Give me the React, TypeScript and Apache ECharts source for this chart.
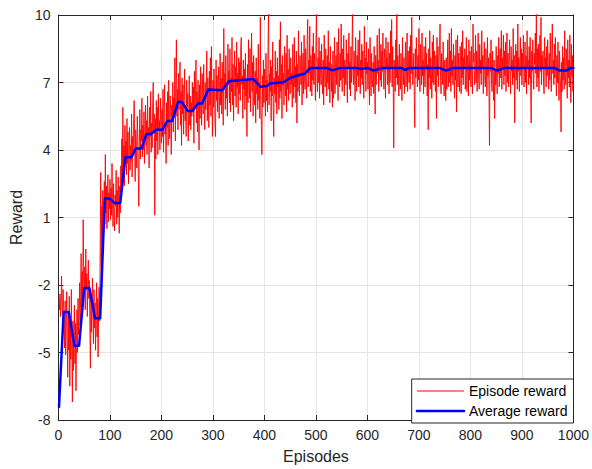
import React, { useEffect, useRef } from "react";
import * as echarts from "echarts";

// Reward of every training episode, 100 episodes per block
const rewards001to100 = [
  -2.6, -3.1, -2.4, -3.4, -2.9, -1.6, -2.8, -3.3, -2.2, -3.0,
  -3.5, -4.8, -2.7, -5.1, -3.9, -2.3, -4.4, -6.1, -3.2, -4.9,
  -2.5, -6.5, -3.8, -5.3, -2.2, -4.7, -7.2, -3.6, -5.8, -4.1,
  -2.9, -5.5, -3.7, -6.7, -4.4, -3.1, -5.0, -2.6, -4.2, -3.3,
  -1.9, -3.8, -2.5, -0.6, -3.0, -1.4, -2.8, 0.9, -1.7, -2.4,
  -1.2, -3.1, -0.4, -2.2, -1.5, -3.4, -2.0, -0.9, -2.6, -1.8,
  -3.7, -5.7, -2.4, -4.1, -2.9, -1.7, -3.5, -4.6, -2.2, -3.9,
  -2.8, -4.9, -3.3, -1.9, -4.3, -2.6, -5.2, -3.0, -2.1, -3.6,
  -0.5, 3.0, -1.2, 1.5, -0.2, 2.2, 0.4, 1.1, 2.6, 0.7,
  3.8, 1.2, 2.4, 0.5, 1.9, 2.9, 0.8, 2.1, 1.4, 2.7,
];
const rewards101to200 = [
  0.9, 2.3, 1.1, 3.4, 1.6, 0.6, 2.5, 1.3, 0.4, 2.0,
  1.5, 3.1, 0.7, 2.2, 1.0, 2.8, 1.7, 0.3, 2.4, 1.2,
  3.3, 2.0, 4.5, 2.6, 5.9, 3.0, 4.2, 2.4, 5.1, 3.6,
  4.4, 2.9, 5.4, 3.4, 4.8, 2.5, 3.9, 5.0, 3.1, 4.2,
  3.5, 5.6, 2.8, 4.6, 3.8, 5.2, 6.2, 4.4, 2.6, 4.9,
  4.1, 3.2, 5.5, 4.7, 3.0, 1.5, 4.3, 5.8, 3.6, 4.9,
  4.4, 6.3, 3.7, 5.1, 4.0, 5.7, 3.4, 4.8, 6.0, 4.2,
  5.3, 3.8, 6.4, 4.5, 5.0, 3.2, 5.9, 4.6, 6.6, 3.9,
  5.2, 4.1, 6.1, 7.0, 4.8, 5.6, 1.1, 5.4, 3.6, 6.2,
  4.4, 5.9, 3.8, 6.5, 4.9, 5.3, 4.0, 6.3, 5.0, 4.3,
];
const rewards201to300 = [
  5.8, 4.6, 6.7, 3.9, 5.5, 6.9, 4.7, 5.2, 3.4, 6.1,
  5.0, 6.6, 4.2, 7.1, 5.4, 4.5, 6.4, 5.7, 3.8, 6.0,
  5.3, 7.0, 4.8, 6.3, 5.6, 8.1, 4.4, 6.8, 8.9, 5.5,
  6.7, 4.9, 7.4, 5.8, 6.3, 7.9, 5.1, 6.6, 4.2, 7.2,
  5.6, 6.9, 4.7, 6.2, 7.6, 5.3, 6.0, 4.6, 7.1, 5.9,
  6.5, 4.4, 5.8, 7.3, 5.1, 6.4, 4.9, 6.1, 5.5, 7.0,
  5.7, 6.8, 4.3, 7.5, 5.9, 6.2, 8.0, 5.2, 6.6, 4.8,
  7.1, 6.0, 4.0, 6.9, 5.4, 7.7, 6.3, 5.1, 7.4, 6.5,
  5.6, 7.8, 6.1, 4.9, 7.0, 5.8, 6.6, 8.4, 5.3, 7.2,
  6.4, 5.0, 7.5, 6.0, 8.1, 5.5, 8.6, 6.3, 4.6, 7.1,
];
const rewards301to400 = [
  5.9, 7.6, 6.6, 5.2, 4.6, 8.0, 6.2, 7.3, 5.7, 6.9,
  7.7, 5.4, 6.5, 8.3, 6.0, 7.2, 5.6, 7.9, 6.4, 5.1,
  9.4, 6.7, 7.4, 5.8, 8.2, 6.3, 7.0, 5.5, 8.7, 6.9,
  7.5, 6.1, 8.5, 5.7, 7.2, 6.6, 9.0, 6.0, 7.8, 5.3,
  7.1, 8.4, 6.4, 7.7, 5.9, 8.8, 6.8, 7.4, 5.6, 8.1,
  6.5, 7.9, 6.2, 8.6, 9.0, 6.9, 7.3, 5.4, 8.0, 6.7,
  7.6, 5.8, 8.3, 6.4, 7.1, 4.6, 7.8, 6.1, 8.9, 7.0,
  6.3, 8.5, 5.7, 7.4, 9.2, 6.6, 7.9, 5.5, 8.2, 6.8,
  6.0, 7.5, 5.2, 8.1, 6.5, 7.2, 5.8, 8.7, 6.2, 7.0,
  5.4, 9.9, 6.4, 5.1, 3.8, 7.3, 5.9, 8.0, 6.1, 7.6,
];
const rewards401to500 = [
  6.8, 5.5, 8.3, 6.2, 7.1, 5.7, 8.6, 10.3, 6.0, 7.4,
  6.6, 8.0, 5.3, 7.7, 6.4, 8.8, 5.9, 4.6, 7.2, 6.5,
  8.4, 6.1, 7.5, 5.6, 8.1, 6.8, 7.3, 5.8, 8.9, 6.3,
  9.7, 6.6, 7.8, 5.4, 8.2, 6.9, 7.4, 6.0, 8.6, 7.1,
  6.4, 8.3, 5.7, 9.1, 6.7, 7.6, 6.2, 8.5, 7.0, 6.5,
  8.1, 6.9, 7.4, 5.9, 8.7, 7.2, 6.3, 9.0, 6.8, 7.7,
  6.1, 8.4, 5.2, 7.8, 6.6, 9.3, 7.1, 6.4, 8.2, 7.5,
  6.9, 8.8, 6.0, 7.6, 8.3, 6.5, 9.1, 7.2, 6.7, 8.5,
  7.0, 6.3, 8.9, 9.8, 6.8, 8.0, 7.4, 9.5, 6.6, 8.2,
  7.8, 6.4, 8.6, 7.1, 9.2, 6.9, 8.3, 7.5, 6.2, 8.8,
];
const rewards501to600 = [
  10.4, 7.3, 6.6, 8.1, 7.0, 9.0, 6.3, 8.4, 7.6, 6.9,
  8.7, 7.2, 6.5, 8.0, 6.0, 9.1, 7.4, 6.8, 8.5, 7.7,
  6.4, 8.2, 7.0, 9.3, 6.7, 7.9, 6.1, 8.6, 7.3, 6.6,
  7.8, 5.9, 8.4, 6.3, 7.1, 9.0, 6.5, 7.6, 8.2, 6.9,
  8.8, 7.4, 6.2, 9.4, 7.7, 6.8, 8.3, 7.1, 9.6, 7.5,
  6.6, 8.5, 7.2, 9.1, 6.4, 8.0, 7.6, 6.9, 8.9, 7.3,
  6.1, 8.3, 7.7, 9.2, 6.7, 7.9, 6.4, 8.6, 7.0, 8.1,
  10.5, 7.4, 6.9, 8.4, 7.6, 6.2, 9.0, 7.8, 6.6, 8.2,
  7.3, 8.9, 6.8, 7.5, 9.3, 6.5, 8.0, 7.2, 8.7, 6.9,
  8.4, 7.1, 6.3, 9.5, 7.7, 8.1, 6.6, 8.8, 7.4, 7.9,
];
const rewards601to700 = [
  6.7, 8.5, 7.2, 6.0, 9.0, 7.6, 6.4, 8.3, 7.0, 6.8,
  7.9, 6.5, 8.6, 7.3, 5.6, 8.2, 6.9, 7.7, 9.1, 7.4,
  8.0, 6.6, 9.4, 7.8, 7.1, 8.7, 6.8, 8.4, 7.5, 9.2,
  7.2, 6.7, 8.5, 7.9, 6.3, 9.0, 7.6, 8.1, 6.9, 8.8,
  7.4, 6.5, 8.3, 7.0, 9.3, 7.7, 9.8, 6.8, 8.6, 7.3,
  4.1, 8.0, 7.5, 6.6, 8.9, 7.2, 10.4, 6.9, 8.2, 7.6,
  6.4, 8.7, 7.1, 6.7, 8.3, 7.8, 6.2, 9.0, 7.4, 6.9,
  8.1, 6.5, 7.3, 8.8, 6.8, 7.7, 9.2, 6.6, 8.4, 7.5,
  7.0, 8.6, 6.7, 9.1, 7.4, 9.9, 8.0, 6.9, 7.6, 8.3,
  6.3, 5.0, 8.5, 7.2, 9.0, 7.7, 6.8, 8.2, 7.1, 9.4,
];
const rewards701to800 = [
  7.5, 6.6, 8.7, 7.9, 6.9, 9.2, 7.3, 8.0, 6.5, 8.6,
  7.4, 6.8, 9.0, 7.6, 8.3, 6.4, 7.8, 4.9, 8.5, 7.2,
  9.3, 6.7, 8.1, 7.5, 6.3, 8.8, 7.0, 9.1, 6.9, 8.4,
  7.7, 6.6, 8.2, 5.4, 9.0, 7.3, 8.6, 6.8, 7.9, 8.5,
  9.6, 7.1, 6.5, 8.3, 7.6, 6.9, 8.8, 7.2, 6.4, 8.0,
  7.4, 6.2, 8.1, 6.7, 7.5, 8.9, 6.8, 7.7, 9.2, 7.0,
  8.4, 6.6, 9.4, 7.3, 8.0, 6.9, 8.7, 7.5, 6.3, 8.2,
  7.1, 8.9, 5.7, 7.8, 9.1, 6.8, 8.3, 7.4, 6.6, 8.6,
  7.9, 6.5, 8.8, 7.2, 9.3, 6.9, 8.1, 7.6, 8.5, 6.7,
  7.4, 9.0, 6.6, 8.2, 7.7, 6.4, 8.9, 7.1, 8.4, 7.8,
];
const rewards801to900 = [
  6.8, 8.6, 7.3, 6.5, 9.6, 7.9, 8.3, 6.9, 7.5, 9.1,
  7.0, 8.4, 6.6, 7.8, 9.2, 7.2, 6.7, 8.7, 7.4, 8.0,
  6.9, 9.3, 7.6, 8.2, 6.5, 7.9, 8.8, 7.1, 6.8, 8.5,
  7.7, 6.4, 9.0, 7.3, 8.1, 6.7, 4.2, 8.3, 7.5, 8.9,
  7.0, 6.6, 8.4, 7.2, 6.2, 8.0, 5.4, 7.6, 6.9, 8.6,
  7.1, 6.5, 8.2, 7.4, 9.0, 6.8, 7.9, 8.5, 7.2, 9.3,
  6.7, 8.1, 7.6, 9.1, 6.9, 8.4, 7.3, 8.8, 6.6, 7.8,
  9.2, 7.0, 8.3, 6.8, 7.7, 8.9, 7.4, 6.5, 8.6, 7.5,
  8.0, 6.9, 9.4, 7.2, 8.2, 5.2, 7.8, 8.7, 7.1, 8.4,
  6.7, 9.6, 7.5, 8.1, 6.6, 7.9, 9.0, 7.3, 8.5, 6.9,
];
const rewards901to1000 = [
  8.3, 7.6, 9.1, 6.8, 7.4, 8.8, 7.0, 8.2, 6.5, 9.3,
  7.7, 8.0, 6.9, 8.6, 7.2, 9.0, 6.6, 5.2, 8.4, 7.5,
  8.9, 7.1, 6.7, 8.3, 7.8, 9.2, 7.4, 10.3, 6.8, 8.5,
  7.2, 8.7, 6.6, 7.9, 9.1, 7.5, 9.9, 6.9, 8.2, 7.6,
  8.4, 7.0, 6.5, 9.0, 7.7, 8.1, 6.8, 8.6, 7.3, 8.9,
  7.5, 6.7, 8.3, 7.1, 9.2, 7.8, 6.6, 8.5, 9.6, 7.4,
  8.0, 6.9, 8.7, 7.2, 9.0, 7.6, 6.4, 8.2, 7.0, 8.8,
  7.3, 6.2, 8.4, 7.5, 6.8, 4.8, 7.9, 6.6, 8.6, 7.1,
  8.1, 6.7, 9.3, 7.4, 6.9, 8.5, 7.7, 6.3, 8.9, 7.2,
  8.0, 6.8, 9.1, 7.5, 6.1, 8.7, 7.3, 8.2, 6.6, 7.9,
];

// Running average reward, given at the episodes where its trend changes
const avgEpisodes = [
  1, 10, 20, 31, 40, 50, 60, 71, 81, 90, 99, 109, 120, 130, 142, 150, 161,
  171, 180, 190, 202, 211, 221, 232, 240, 251, 260, 271, 279, 291, 318, 331,
  378, 392, 405, 411, 437, 450, 463, 479, 489, 520, 532, 548, 578, 589, 600,
  612, 628, 666, 673, 682, 740, 753, 766, 840, 852, 866, 963, 973, 986, 995,
  1000,
];
const avgRewards = [
  -7.42, -3.2, -3.2, -4.7, -4.7, -2.13, -2.13, -3.48, -3.48, 1.84, 1.84, 1.65,
  1.65, 3.68, 3.68, 4.07, 4.07, 4.71, 4.71, 4.9, 4.9, 5.29, 5.29, 6.13, 6.13,
  5.73, 5.73, 6.07, 6.07, 6.69, 6.66, 7.06, 7.16, 6.81, 6.84, 6.96, 7.01, 7.2,
  7.3, 7.4, 7.65, 7.65, 7.54, 7.65, 7.65, 7.6, 7.65, 7.53, 7.65, 7.65, 7.56,
  7.65, 7.65, 7.53, 7.65, 7.65, 7.53, 7.65, 7.65, 7.53, 7.53, 7.65, 7.65,
];

const yTickValues = [-8, -5, -2, 1, 4, 7, 10];

const FONT = "'Liberation Sans', Arial, Helvetica, sans-serif";
const AXIS_COLOR = "#262626";
const GRID_COLOR = "#e5e5e5";

export default function App() {
  const ref = useRef<HTMLDivElement>(null);

  useEffect(() => {
    if (!ref.current) return;
    const chart = echarts.init(ref.current, undefined, { renderer: "svg" });

    const episodeRewards = [
      ...rewards001to100,
      ...rewards101to200,
      ...rewards201to300,
      ...rewards301to400,
      ...rewards401to500,
      ...rewards501to600,
      ...rewards601to700,
      ...rewards701to800,
      ...rewards801to900,
      ...rewards901to1000,
    ];
    const rewardData = episodeRewards.map((v, i) => [i + 1, v]);
    const avgData = avgEpisodes.map((ep, i) => [ep, avgRewards[i]]);

    const axisLine = { show: true, onZero: false, lineStyle: { color: AXIS_COLOR, width: 1 } };
    const axisTick = { show: true, inside: true, length: 5, lineStyle: { color: AXIS_COLOR, width: 1 } };
    const tickLabel = { fontSize: 14, color: AXIS_COLOR, fontFamily: FONT };

    chart.setOption({
      animation: false,
      backgroundColor: "#ffffff",
      grid: { left: 57.5, right: 18, top: 15, bottom: 45.5, containLabel: false },
      xAxis: [
        {
          type: "value",
          position: "bottom",
          min: 0,
          max: 1000,
          interval: 100,
          name: "Episodes",
          nameLocation: "middle",
          nameGap: 28,
          nameTextStyle: { fontSize: 16, color: AXIS_COLOR, fontFamily: FONT },
          axisLine,
          axisTick,
          axisLabel: { ...tickLabel, margin: 8, formatter: (v: number) => String(v) },
          splitLine: { show: true, lineStyle: { color: GRID_COLOR, width: 1 } },
        },
        {
          type: "value",
          position: "top",
          min: 0,
          max: 1000,
          interval: 100,
          axisLine,
          axisTick,
          axisLabel: { show: false },
          splitLine: { show: false },
        },
      ],
      yAxis: [
        {
          type: "value",
          position: "left",
          min: -8,
          max: 10,
          name: "Reward",
          nameLocation: "middle",
          nameGap: 29,
          nameTextStyle: { fontSize: 16, color: AXIS_COLOR, fontFamily: FONT },
          axisLine,
          axisTick: { ...axisTick, customValues: yTickValues },
          axisLabel: { ...tickLabel, margin: 8, customValues: yTickValues },
          splitLine: { show: true, lineStyle: { color: GRID_COLOR, width: 1 } },
        },
        {
          type: "value",
          position: "right",
          min: -8,
          max: 10,
          axisLine,
          axisTick: { ...axisTick, customValues: yTickValues },
          axisLabel: { show: false, customValues: yTickValues },
          splitLine: { show: false },
        },
      ],
      legend: {
        orient: "vertical",
        right: 18.5,
        bottom: 46,
        itemWidth: 47,
        itemHeight: 14,
        itemGap: 6,
        padding: [5, 6, 5, 4],
        backgroundColor: "#ffffff",
        borderColor: AXIS_COLOR,
        borderWidth: 1,
        borderRadius: 0,
        // line sample only, no marker in the middle
        itemStyle: { opacity: 0 },
        textStyle: { fontSize: 14, color: "#000000", fontFamily: FONT },
        data: [
          { name: "Episode reward", lineStyle: { width: 1 } },
          { name: "Average reward", lineStyle: { width: 2.5 } },
        ],
      },
      series: [
        {
          name: "Episode reward",
          type: "line",
          xAxisIndex: 0,
          yAxisIndex: 0,
          data: rewardData,
          symbol: "none",
          showSymbol: false,
          clip: true,
          lineStyle: { color: "#ff0000", width: 0.9 },
          itemStyle: { color: "#ff0000" },
          z: 2,
        },
        {
          name: "Average reward",
          type: "line",
          xAxisIndex: 0,
          yAxisIndex: 0,
          data: avgData,
          symbol: "none",
          showSymbol: false,
          clip: true,
          lineStyle: { color: "#0000ff", width: 2.5, join: "round", cap: "round" },
          itemStyle: { color: "#0000ff" },
          z: 3,
        },
      ],
    });

    return () => chart.dispose();
  }, []);

  return (
    <div
      ref={ref}
      style={{ position: "fixed", left: 0, top: 0, width: 592, height: 469, background: "#fff" }}
    />
  );
}
